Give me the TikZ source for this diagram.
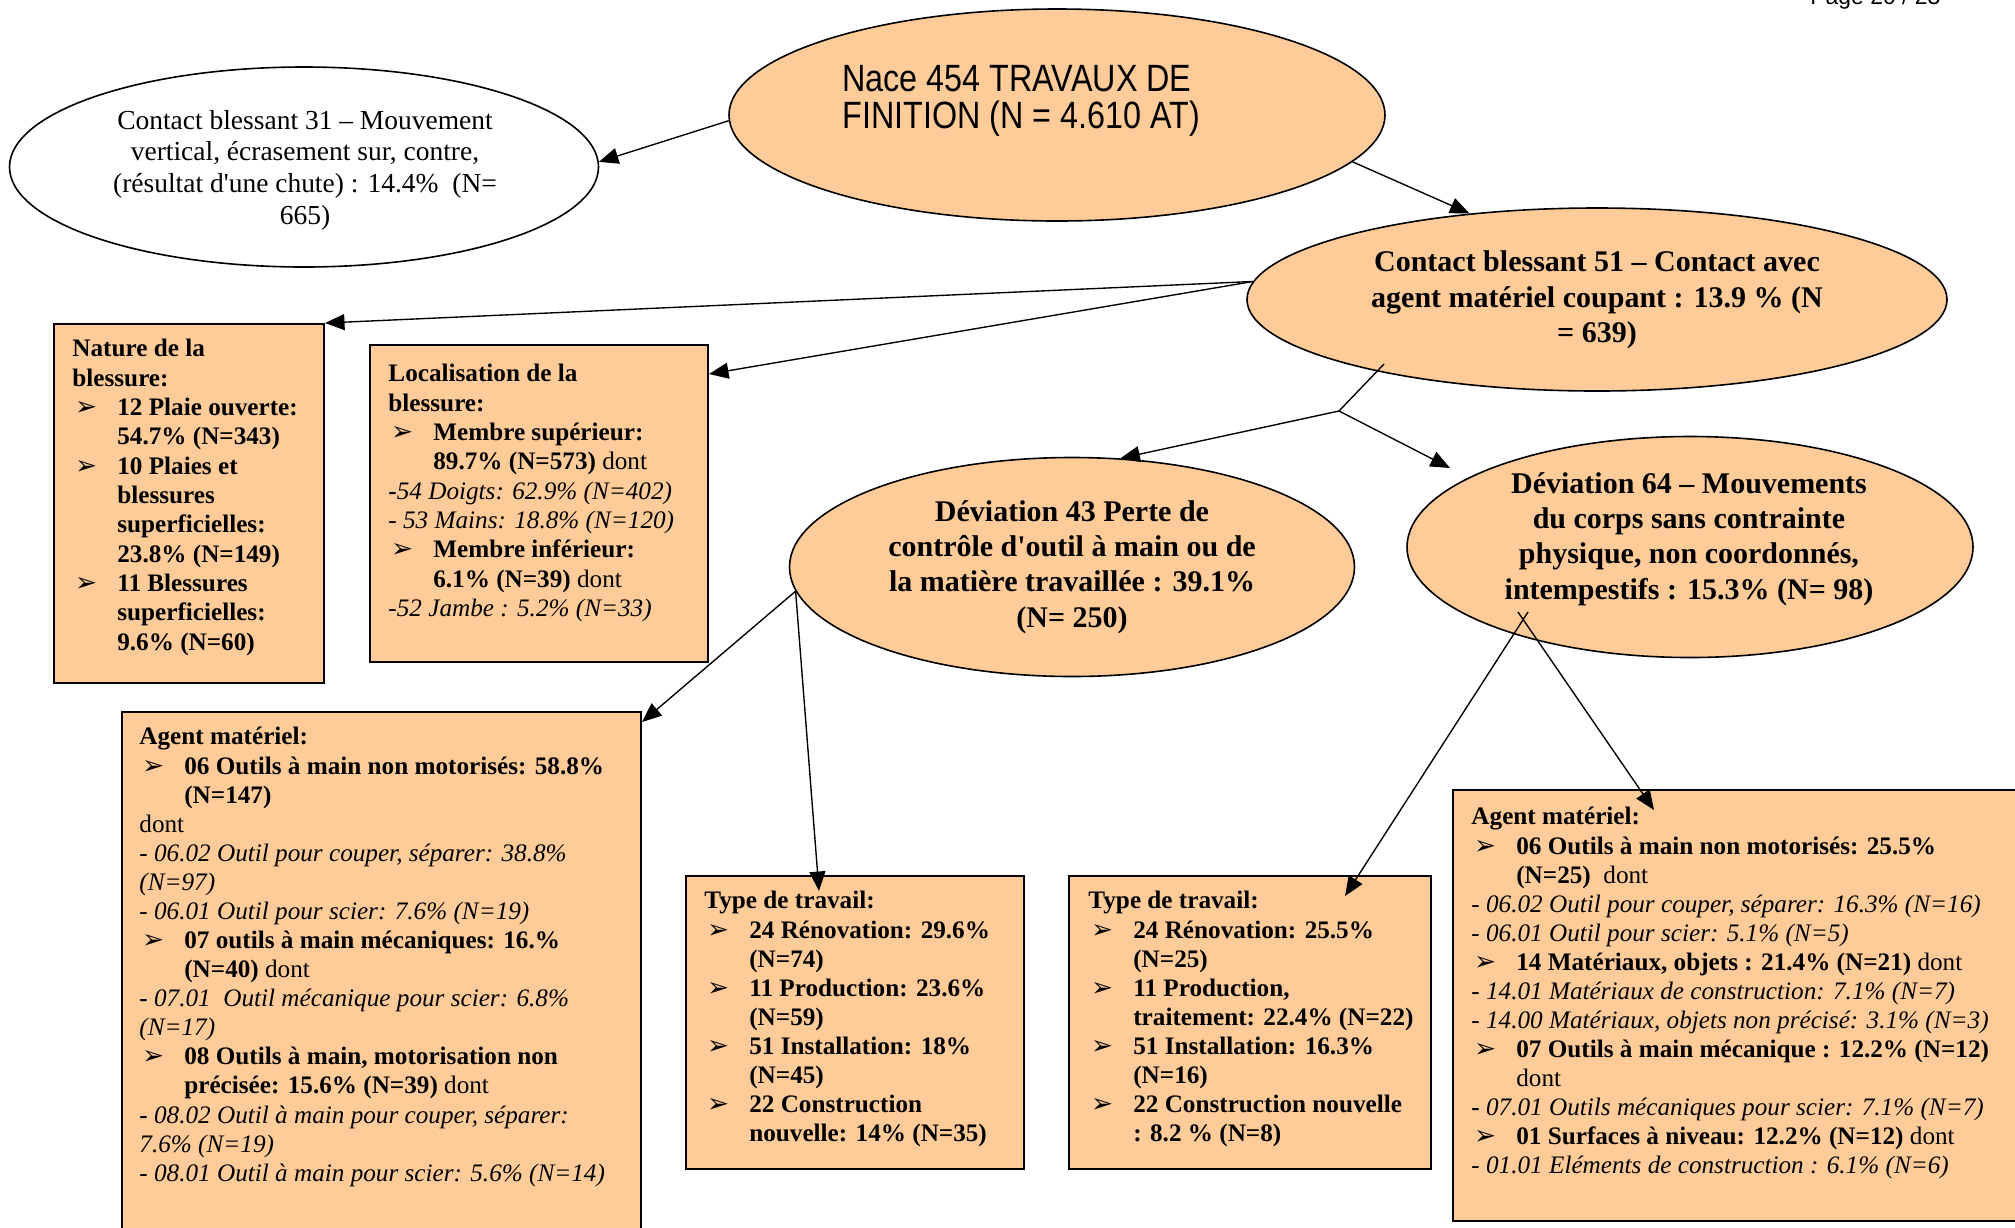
\documentclass[tikz,border=0pt]{standalone}
\usepackage{fontspec}
\setmainfont{Liberation Serif}
\newfontfamily\arialfont{Liberation Sans}
\newfontfamily\narrowsans[FakeStretch=0.85]{Liberation Sans}
\newfontfamily\dingfont{DejaVu Sans}
\usetikzlibrary{shapes.geometric,arrows.meta,calc}
\definecolor{peach}{HTML}{FFCC99}
\def\pxu{0.4367pt}
% list helpers: arrowhead bullet with hanging indent, and continuation indent
\newcommand{\bul}{\makebox[19.6pt][l]{\hspace*{1.2pt}{\mdseries\upshape\dingfont\fontsize{11.5}{11}\selectfont ➢}}}
\newcommand{\ind}{\hspace*{19.6pt}}
\begin{document}
\begin{tikzpicture}[x=0.4367pt,y=-0.4367pt,
  dims/.style 2 args={minimum width=#1*\pxu,minimum height=#2*\pxu},
  ell/.style={ellipse,draw=black,line width=0.7pt,inner sep=0pt},
  peachell/.style={ell,fill=peach},
  box/.style={rectangle,draw=black,line width=0.9pt,fill=peach,inner sep=0pt,anchor=north west},
  boxtext/.style={anchor=north west,inner sep=0pt,align=left,font=\fontsize{11}{12.7}\selectfont},
  elltext/.style={inner sep=0pt,align=center,font=\bfseries\fontsize{13.1}{15.4}\selectfont},
  conn/.style={draw=black,line width=0.6pt,-{Triangle[length=8.5pt,width=7pt]}},
  link/.style={draw=black,line width=0.6pt}
]
\useasboundingbox (0,0) rectangle (2015,1227);
\fill[white] (0,0) rectangle (2015,1227);
\clip (0,0) rectangle (2015,1227);

% page header
\node[anchor=base west,inner sep=0pt,font=\arialfont\fontsize{10}{12}\selectfont] (pg) at (1810,4) {Page 20 / 23};

% ellipses
\node[peachell,dims={656}{212}] (nace) at (1057,115) {};
\node[inner sep=0pt,anchor=west,align=left,font=\narrowsans\fontsize{16.6}{15.9}\selectfont] (nacet) at (842,101)
  {Nace 454 TRAVAUX DE\\FINITION (N = 4.610 AT)};

\node[ell,fill=white,dims={589}{200}] (e31) at (304,167) {};
\node[inner sep=0pt,align=center,font=\fontsize{12}{13.85}\selectfont] (e31t) at (305,170)
  {Contact blessant 31 – Mouvement\\vertical, écrasement sur, contre,\\(résultat d\textquotesingle une chute) : 14.4\%~~(N=\\665)};

\node[peachell,dims={700}{183}] (e51) at (1597,299.5) {};
\node[elltext] (e51t) at (1597,300)
  {Contact blessant 51 – Contact avec\\agent matériel coupant : 13.9 \% (N\\= 639)};

\node[peachell,dims={565}{219}] (d43) at (1072,567) {};
\node[elltext] (d43t) at (1072,567)
  {Déviation 43 Perte de\\contrôle d\textquotesingle outil à main ou de\\la matière travaillée : 39.1\%\\(N= 250)};

\node[peachell,dims={566}{221}] (d64) at (1690,547) {};
\node[elltext] (d64t) at (1689,539)
  {Déviation 64 – Mouvements\\du corps sans contrainte\\physique, non coordonnés,\\intempestifs : 15.3\% (N= 98)};

% boxes
\node[box,dims={270}{359}] (nature) at (53,323) {};
\node[boxtext,font=\bfseries\fontsize{11}{12.8}\selectfont] (naturet) at (72,339)
  {Nature de la\\blessure:\\
   \bul 12 Plaie ouverte:\\\ind 54.7\% (N=343)\\
   \bul 10 Plaies et\\\ind blessures\\\ind superficielles:\\\ind 23.8\% (N=149)\\
   \bul 11 Blessures\\\ind superficielles:\\\ind 9.6\% (N=60)};

\node[box,dims={338}{317}] (loc) at (369,344) {};
\node[boxtext,font=\fontsize{11}{12.8}\selectfont] (loct) at (388,364)
  {\textbf{Localisation de la}\\
   \textbf{blessure:}\\
   \bul\textbf{Membre supérieur:}\\
   \ind\textbf{89.7\% (N=573)} dont\\
   \textbf{-}\textit{54 Doigts: 62.9\% (N=402)}\\
   \textit{- 53 Mains: 18.8\% (N=120)}\\
   \bul\textbf{Membre inférieur:}\\
   \ind\textbf{6.1\% (N=39)} dont\\
   \textit{-52 Jambe : 5.2\% (N=33)}};

\node[box,dims={519}{540}] (agl) at (121,711) {};
\node[boxtext] (aglt) at (139,727)
  {\textbf{Agent matériel:}\\
   \bul\textbf{06 Outils à main non motorisés: 58.8\%}\\
   \ind\textbf{(N=147)}\\
   dont\\
   \textit{- 06.02 Outil pour couper, séparer: 38.8\%}\\
   \textit{(N=97)}\\
   \textit{- 06.01 Outil pour scier: 7.6\% (N=19)}\\
   \bul\textbf{07 outils à main mécaniques: 16.\%}\\
   \ind\textbf{(N=40)} dont\\
   \textbf{-} \textit{07.01\ \ Outil mécanique pour scier: 6.8\%}\\
   \textit{(N=17)}\\
   \bul\textbf{08 Outils à main, motorisation non}\\
   \ind\textbf{précisée: 15.6\% (N=39)} dont\\
   \textbf{-} \textit{08.02 Outil à main pour couper, séparer:}\\
   \textit{7.6\% (N=19)}\\
   \textit{- 08.01 Outil à main pour scier: 5.6\% (N=14)}};

\node[box,dims={338}{293}] (tmid) at (685,875) {};
\node[boxtext,font=\bfseries\fontsize{11}{12.7}\selectfont] (tmidt) at (704,891)
  {Type de travail:\\
   \bul 24 Rénovation: 29.6\%\\\ind (N=74)\\
   \bul 11 Production: 23.6\%\\\ind (N=59)\\
   \bul 51 Installation: 18\%\\\ind (N=45)\\
   \bul 22 Construction\\\ind nouvelle: 14\% (N=35)};

\node[box,dims={362}{293}] (tright) at (1068,875) {};
\node[boxtext,font=\bfseries\fontsize{11}{12.7}\selectfont] (trightt) at (1088,891)
  {Type de travail:\\
   \bul 24 Rénovation: 25.5\%\\\ind (N=25)\\
   \bul 11 Production,\\\ind traitement: 22.4\% (N=22)\\
   \bul 51 Installation: 16.3\%\\\ind (N=16)\\
   \bul 22 Construction nouvelle\\\ind : 8.2 \% (N=8)};

\node[box,dims={578}{431}] (agr) at (1452,789) {};
\node[boxtext] (agrt) at (1471,807)
  {\textbf{Agent matériel:}\\
   \bul\textbf{06 Outils à main non motorisés: 25.5\%}\\
   \ind\textbf{(N=25)}\ \ dont\\
   \textit{- 06.02 Outil pour couper, séparer: 16.3\% (N=16)}\\
   \textit{- 06.01 Outil pour scier: 5.1\% (N=5)}\\
   \bul\textbf{14 Matériaux, objets : 21.4\% (N=21)} dont\\
   \textit{- 14.01 Matériaux de construction: 7.1\% (N=7)}\\
   \textit{- 14.00 Matériaux, objets non précisé: 3.1\% (N=3)}\\
   \bul\textbf{07 Outils à main mécanique : 12.2\% (N=12)}\\
   \ind dont\\
   \textbf{-} \textit{07.01 Outils mécaniques pour scier: 7.1\% (N=7)}\\
   \bul\textbf{01 Surfaces à niveau: 12.2\% (N=12)} dont\\
   \textit{- 01.01 Eléments de construction : 6.1\% (N=6)}};

% connectors
\coordinate (fork) at (1339,411);
\draw[conn] (nace.181) -- (e31.1);
\draw[conn] (nace.-9.6) -- (e51.146.5);
\draw[conn] (e51.177) -- (nature.north east);
\draw[conn] (e51.177) -- ($(loc.north east)+(0,30)$);
\draw[link] ($(e51.center)+(-213,64.5)$) -- (fork);
\draw[conn] (fork) -- (d43.66);
\draw[conn] (fork) -- ($(d64.center)+(-240,-79)$);
\draw[conn] (d43.185) -- ($(agl.north east)+(0,11)$);
\draw[conn] (d43.185) -- ($(tmid.north west)+(134,16)$);
\draw[conn] ($(d64.center)+(-162,65)$) -- ($(tright.north east)+(-87,21)$);
\draw[conn] ($(d64.center)+(-172,65)$) -- ($(agr.north west)+(202,21)$);
\end{tikzpicture}
\end{document}
